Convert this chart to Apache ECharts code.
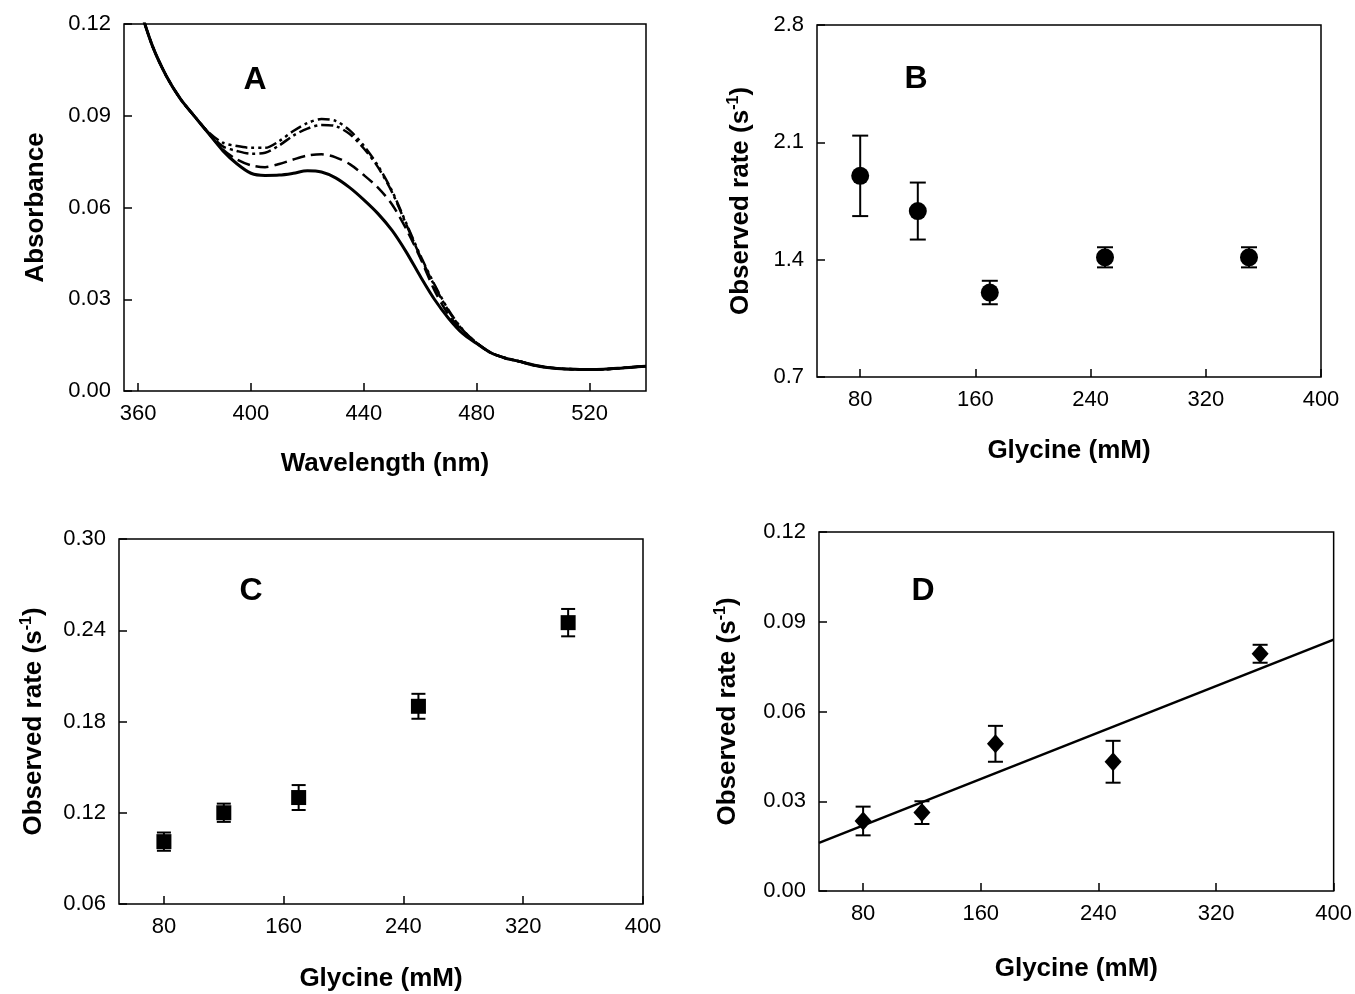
<!DOCTYPE html>
<html><head><meta charset="utf-8">
<script src="https://cdn.jsdelivr.net/npm/echarts@6/dist/echarts.min.js"></script>
<style>html,body{margin:0;padding:0;background:#fff}#c{width:1355px;height:994px}</style>
</head><body><div id="c"></div>
<script>
// ---------- Panel A data ----------
const wavelength = [360,365,370,375,380,385,390,395,400,405,410,415,420,425,430,435,440,445,450,455,460,465,470,475,480,485,490,495,500,505,510,515,520,525,530,535,540];
const absSolid      = [0.127,0.1130,0.1030,0.0955,0.0898,0.0842,0.0786,0.0743,0.0712,0.0705,0.0706,0.0712,0.0720,0.0716,0.0697,0.0665,0.0625,0.0580,0.0525,0.0455,0.0375,0.0300,0.0238,0.0188,0.0155,0.0125,0.0108,0.0097,0.0085,0.0077,0.0073,0.0071,0.0070,0.0071,0.0074,0.0078,0.0081];
const absDashed     = [0.127,0.1130,0.1030,0.0955,0.0898,0.0842,0.0790,0.0757,0.0738,0.0732,0.0742,0.0757,0.0770,0.0774,0.0764,0.0742,0.0706,0.0665,0.0610,0.0530,0.0435,0.0330,0.0250,0.0196,0.0157,0.0125,0.0108,0.0097,0.0085,0.0077,0.0073,0.0071,0.0070,0.0071,0.0074,0.0078,0.0081];
const absDashDot    = [0.127,0.1130,0.1030,0.0955,0.0898,0.0844,0.0800,0.0785,0.0776,0.0779,0.0803,0.0835,0.0858,0.0870,0.0866,0.0840,0.0793,0.0732,0.0650,0.0545,0.0440,0.0345,0.0262,0.0200,0.0157,0.0125,0.0108,0.0097,0.0085,0.0077,0.0073,0.0071,0.0070,0.0071,0.0074,0.0078,0.0081];
const absDashDotDot = [0.127,0.1130,0.1030,0.0955,0.0898,0.0846,0.0812,0.0801,0.0795,0.0795,0.0817,0.0850,0.0876,0.0889,0.0883,0.0852,0.0802,0.0737,0.0654,0.0549,0.0444,0.0349,0.0265,0.0201,0.0157,0.0125,0.0108,0.0097,0.0085,0.0077,0.0073,0.0071,0.0070,0.0071,0.0074,0.0078,0.0081];
const ticksA_x = [360,400,440,480,520];
const ticksA_y = [0,0.03,0.06,0.09,0.12];

// ---------- Panels B, C, D data ----------
const glycine = [80,120,170,250,350];
const rateB = [1.90,1.69,1.204,1.414,1.414];
const errB  = [0.24,0.17,0.07,0.06,0.06];
const rateC = [0.101,0.120,0.130,0.190,0.245];
const errC  = [0.006,0.006,0.0082,0.0082,0.009];
const rateD = [0.0234,0.0262,0.0492,0.0432,0.0793];
const errD  = [0.0048,0.0038,0.006,0.007,0.003];
const fitD_x = [50,400];
const fitD_y = [0.0161,0.0840];
const ticksGly = [80,160,240,320,400];
const ticksB_y = [0.7,1.4,2.1,2.8];
const ticksC_y = [0.06,0.12,0.18,0.24,0.30];
const ticksD_y = [0,0.03,0.06,0.09,0.12];

const FONT = '"Liberation Sans", Arial, sans-serif';
const zip = (a,b) => a.map((v,i)=>[v,b[i]]);
const zip3 = (a,b,c) => a.map((v,i)=>[v,b[i],c[i]]);

function xAx(gi,min,max,ticks,name,gap){
  return {type:'value', gridIndex:gi, min:min, max:max,
    axisLine:{show:false},
    axisTick:{show:true, inside:true, length:8, customValues:ticks, lineStyle:{color:'#000', width:1.5}},
    axisLabel:{customValues:ticks, color:'#000', fontSize:22, fontFamily:FONT, margin:12},
    splitLine:{show:false},
    name:name, nameLocation:'middle', nameGap:gap,
    nameTextStyle:{color:'#000', fontSize:26, fontWeight:'bold', fontFamily:FONT}};
}
const rateName = '{t|Observed rate (s}{s|-1}{t|)}';
function yAx(gi,min,max,ticks,dec,name,gap){
  return {type:'value', gridIndex:gi, min:min, max:max,
    axisLine:{show:false},
    axisTick:{show:true, inside:true, length:8, customValues:ticks, lineStyle:{color:'#000', width:1.5}},
    axisLabel:{customValues:ticks, color:'#000', fontSize:22, fontFamily:FONT, margin:13,
      formatter:v=>Number(v).toFixed(dec)},
    splitLine:{show:false},
    name:name, nameLocation:'middle', nameGap:gap,
    nameTextStyle:{color:'#000', fontSize:26, fontWeight:'bold', fontFamily:FONT,
      rich:{t:{fontSize:26, fontWeight:'bold', fontFamily:FONT, color:'#000', lineHeight:30},
            s:{fontSize:16, fontWeight:'bold', fontFamily:FONT, color:'#000', lineHeight:16, verticalAlign:'top'}}}};
}
function errRender(capW){
  return function(params, api){
    const x = api.value(0), y = api.value(1), e = api.value(2);
    const t = api.coord([x, y+e]), b = api.coord([x, y-e]);
    const st = {stroke:'#000', lineWidth:2};
    return {type:'group', children:[
      {type:'line', shape:{x1:t[0],y1:t[1],x2:b[0],y2:b[1]}, style:st},
      {type:'line', shape:{x1:t[0]-capW/2,y1:t[1],x2:t[0]+capW/2,y2:t[1]}, style:st},
      {type:'line', shape:{x1:b[0]-capW/2,y1:b[1],x2:b[0]+capW/2,y2:b[1]}, style:st}
    ]};
  };
}
const gridStyle = {show:true, borderColor:'#000', borderWidth:1.5, backgroundColor:'transparent', containLabel:false};
function lineA(data, type, w){
  return {type:'line', xAxisIndex:0, yAxisIndex:0, data:data, symbol:'none', smooth:0.3,
    lineStyle:{color:'#000', width:w, type:type}, clip:true, silent:true};
}
function letter(txt,x,y){
  return {type:'text', x:x, y:y, style:{text:txt, fontSize:32, fontWeight:'bold', fontFamily:FONT, fill:'#000', align:'center', verticalAlign:'middle'}};
}
const markStyle = {color:'#000', opacity:1};

const chart = echarts.init(document.getElementById('c'), null, {renderer:'canvas'});
chart.setOption({
  animation:false,
  backgroundColor:'#fff',
  grid:[
    Object.assign({left:124, top:24, width:522, height:367}, gridStyle),
    Object.assign({left:817, top:25, width:504, height:352}, gridStyle),
    Object.assign({left:119, top:539, width:524, height:365}, gridStyle),
    Object.assign({left:819, top:532, width:515, height:359}, gridStyle)
  ],
  xAxis:[
    xAx(0,355,540,ticksA_x,'Wavelength (nm)',60),
    xAx(1,50,400,ticksGly,'Glycine (mM)',61),
    xAx(2,50,400,ticksGly,'Glycine (mM)',62),
    xAx(3,50,400,ticksGly,'Glycine (mM)',65)
  ],
  yAxis:[
    yAx(0,0,0.12,ticksA_y,2,'Absorbance',75),
    yAx(1,0.7,2.8,ticksB_y,1,rateName,61),
    yAx(2,0.06,0.30,ticksC_y,2,rateName,70),
    yAx(3,0,0.12,ticksD_y,2,rateName,76)
  ],
  graphic:[letter('A',255,80), letter('B',916,79), letter('C',251,591), letter('D',923,591)],
  series:[
    lineA(zip(wavelength,absSolid),'solid',3),
    lineA(zip(wavelength,absDashed),[13,6],2.5),
    lineA(zip(wavelength,absDashDot),[12,4,3,4],2.5),
    lineA(zip(wavelength,absDashDotDot),[12,4,3,4,3,4],2.5),

    {type:'custom', xAxisIndex:1, yAxisIndex:1, renderItem:errRender(16), data:zip3(glycine,rateB,errB), encode:{x:0,y:1}, silent:true},
    {type:'scatter', xAxisIndex:1, yAxisIndex:1, data:zip(glycine,rateB), symbol:'circle', symbolSize:18, itemStyle:markStyle, silent:true},

    {type:'custom', xAxisIndex:2, yAxisIndex:2, renderItem:errRender(14), data:zip3(glycine,rateC,errC), encode:{x:0,y:1}, silent:true},
    {type:'scatter', xAxisIndex:2, yAxisIndex:2, data:zip(glycine,rateC), symbol:'rect', symbolSize:15, itemStyle:markStyle, silent:true},

    {type:'line', xAxisIndex:3, yAxisIndex:3, data:zip(fitD_x,fitD_y), symbol:'none', lineStyle:{color:'#000', width:2.5}, silent:true},
    {type:'custom', xAxisIndex:3, yAxisIndex:3, renderItem:errRender(15), data:zip3(glycine,rateD,errD), encode:{x:0,y:1}, silent:true},
    {type:'scatter', xAxisIndex:3, yAxisIndex:3, data:zip(glycine,rateD), symbol:'diamond', symbolSize:[17,19], itemStyle:markStyle, silent:true}
  ]
});
</script>
</body></html>
